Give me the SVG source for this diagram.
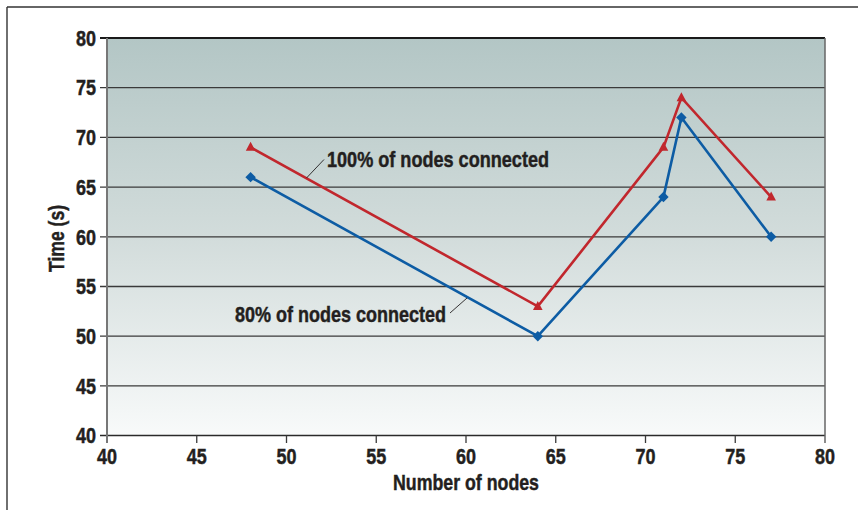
<svg xmlns="http://www.w3.org/2000/svg" width="858" height="510" viewBox="0 0 858 510">
<defs>
<linearGradient id="bg" x1="0" y1="0" x2="0" y2="1">
<stop offset="0" stop-color="#b3c6c5"/>
<stop offset="0.5" stop-color="#d2dcdb"/>
<stop offset="1" stop-color="#f8fafa"/>
</linearGradient>
<marker id="tri" markerUnits="userSpaceOnUse" markerWidth="14" markerHeight="14" refX="7" refY="7" overflow="visible">
<path d="M7,1.5 L11.8,10.5 L2.2,10.5 Z" fill="#c1272d"/>
</marker>
<marker id="dia" markerUnits="userSpaceOnUse" markerWidth="14" markerHeight="14" refX="7" refY="7" overflow="visible">
<path d="M7,1.8 L12.2,7 L7,12.2 L1.8,7 Z" fill="#0d5ca4"/>
</marker>
</defs>
<style>
.lbl{font-family:"Liberation Sans",Arial,sans-serif;font-weight:bold;fill:#231f20;stroke:#231f20;stroke-width:0.45;font-size:21.5px}
.grid{stroke:#3a3a3a;stroke-width:1.3}
.tick{stroke:#3a3a3a;stroke-width:1.3}
.series{fill:none;stroke-width:2.6;stroke-linejoin:miter}
.lead{stroke:#231f20;stroke-width:0.9}
</style>
<rect width="858" height="510" fill="#ffffff"/>
<g id="frame">
<line x1="7" y1="7" x2="858" y2="7" stroke="#333" stroke-width="1.4"/>
<line x1="7" y1="7" x2="7" y2="510" stroke="#333" stroke-width="1.4"/>
</g>
<g id="plot">
<rect x="107" y="38" width="718" height="397.6" fill="url(#bg)"/>
<line class="grid" x1="100" y1="87.7" x2="825" y2="87.7"/>
<line class="grid" x1="100" y1="137.4" x2="825" y2="137.4"/>
<line class="grid" x1="100" y1="187.1" x2="825" y2="187.1"/>
<line class="grid" x1="100" y1="236.8" x2="825" y2="236.8"/>
<line class="grid" x1="100" y1="286.5" x2="825" y2="286.5"/>
<line class="grid" x1="100" y1="336.2" x2="825" y2="336.2"/>
<line class="grid" x1="100" y1="385.9" x2="825" y2="385.9"/>
<line x1="100" y1="38" x2="825" y2="38" stroke="#1a1a1a" stroke-width="2.2"/>
<line x1="100" y1="435.6" x2="825" y2="435.6" stroke="#2a2a2a" stroke-width="1.5"/>
<line x1="107" y1="38" x2="107" y2="443" stroke="#777" stroke-width="2"/>
<line x1="825" y1="38" x2="825" y2="443" stroke="#666" stroke-width="1.5"/>
<line class="tick" x1="196.75" y1="435.6" x2="196.75" y2="443"/>
<line class="tick" x1="286.5" y1="435.6" x2="286.5" y2="443"/>
<line class="tick" x1="376.25" y1="435.6" x2="376.25" y2="443"/>
<line class="tick" x1="466" y1="435.6" x2="466" y2="443"/>
<line class="tick" x1="555.75" y1="435.6" x2="555.75" y2="443"/>
<line class="tick" x1="645.5" y1="435.6" x2="645.5" y2="443"/>
<line class="tick" x1="735.25" y1="435.6" x2="735.25" y2="443"/>
</g>
<g id="y-labels" class="lbl" text-anchor="end">
<text x="96" y="45.7" textLength="20" lengthAdjust="spacingAndGlyphs">80</text>
<text x="96" y="95.4" textLength="20" lengthAdjust="spacingAndGlyphs">75</text>
<text x="96" y="145.1" textLength="20" lengthAdjust="spacingAndGlyphs">70</text>
<text x="96" y="194.8" textLength="20" lengthAdjust="spacingAndGlyphs">65</text>
<text x="96" y="244.5" textLength="20" lengthAdjust="spacingAndGlyphs">60</text>
<text x="96" y="294.2" textLength="20" lengthAdjust="spacingAndGlyphs">55</text>
<text x="96" y="343.9" textLength="20" lengthAdjust="spacingAndGlyphs">50</text>
<text x="96" y="393.6" textLength="20" lengthAdjust="spacingAndGlyphs">45</text>
<text x="96" y="443.3" textLength="20" lengthAdjust="spacingAndGlyphs">40</text>
</g>
<g id="x-labels" class="lbl" text-anchor="middle">
<text x="107" y="464" textLength="20" lengthAdjust="spacingAndGlyphs">40</text>
<text x="196.75" y="464" textLength="20" lengthAdjust="spacingAndGlyphs">45</text>
<text x="286.5" y="464" textLength="20" lengthAdjust="spacingAndGlyphs">50</text>
<text x="376.25" y="464" textLength="20" lengthAdjust="spacingAndGlyphs">55</text>
<text x="466" y="464" textLength="20" lengthAdjust="spacingAndGlyphs">60</text>
<text x="555.75" y="464" textLength="20" lengthAdjust="spacingAndGlyphs">65</text>
<text x="645.5" y="464" textLength="20" lengthAdjust="spacingAndGlyphs">70</text>
<text x="735.25" y="464" textLength="20" lengthAdjust="spacingAndGlyphs">75</text>
<text x="825" y="464" textLength="20" lengthAdjust="spacingAndGlyphs">80</text>
</g>
<g id="axis-titles" class="lbl">
<text x="393" y="490" textLength="146" lengthAdjust="spacingAndGlyphs">Number of nodes</text>
<text transform="translate(64,272) rotate(-90)" textLength="67" lengthAdjust="spacingAndGlyphs">Time (s)</text>
</g>
<g id="connectors">
<polyline id="series-80" class="series" stroke="#0d5ca4" marker-start="url(#dia)" marker-mid="url(#dia)" marker-end="url(#dia)" points="250.6,177.16 537.8,336.2 663.45,197.04 681.4,117.52 771.15,236.8"/>
<polyline id="series-100" class="series" stroke="#c1272d" marker-start="url(#tri)" marker-mid="url(#tri)" marker-end="url(#tri)" points="250.6,147.34 537.8,306.38 663.45,147.34 681.4,97.64 771.15,197.04"/>
<line class="lead" x1="306.5" y1="178" x2="324" y2="159.5"/>
<line class="lead" x1="450" y1="313" x2="467" y2="298"/>
</g>
<g id="label-100" class="lbl">
<text x="327" y="167" textLength="222" lengthAdjust="spacingAndGlyphs">100% of nodes connected</text>
</g>
<g id="label-80" class="lbl">
<text x="235" y="322" textLength="211" lengthAdjust="spacingAndGlyphs">80% of nodes connected</text>
</g>
</svg>
